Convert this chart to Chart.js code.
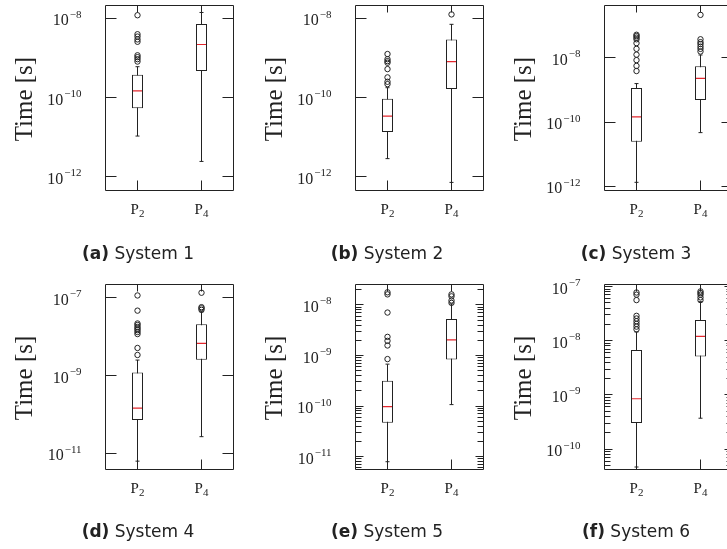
<!DOCTYPE html>
<html>
<head>
<meta charset="utf-8">
<script src="https://cdn.jsdelivr.net/npm/chart.js@4.4.1/dist/chart.umd.min.js"></script>
<style>
  html, body { margin: 0; padding: 0; background: #fff; }
  #fig { position: relative; width: 727px; height: 549px; overflow: hidden; }
  #fig canvas { position: absolute; }
  .cap {
    position: absolute; width: 220px; text-align: center;
    font: 17px "DejaVu Sans", sans-serif; line-height: 20px;
    color: #222; white-space: nowrap;
  }
</style>
</head>
<body>
<div id="fig"></div>
<script>
const categories = ["P₂", "P₄"];

// System 1
const sys1Low = [1.07e-11, 2.45e-12];
const sys1Q1 = [5.37e-11, 4.68e-10];
const sys1Median = [1.48e-10, 2.19e-9];
const sys1Q3 = [3.8e-10, 7.24e-9];
const sys1High = [6.03e-10, 1.41e-8];
const sys1OutliersP2 = [1.2e-8, 3.98e-9, 3.47e-9, 2.95e-9, 2.57e-9, 1.17e-9, 1.05e-9, 9.33e-10, 8.13e-10];
const sys1OutliersP4 = [];
const sys1Range = [4.52e-13, 2.09e-8];
const sys1Ticks = [1e-8, 1e-10, 1e-12];

// System 2
const sys2Low = [2.88e-12, 7.24e-13];
const sys2Q1 = [1.35e-11, 1.66e-10];
const sys2Median = [3.39e-11, 8.13e-10];
const sys2Q3 = [9.33e-11, 2.95e-9];
const sys2High = [1.78e-10, 7.08e-9];
const sys2OutliersP2 = [1.26e-9, 9.33e-10, 8.32e-10, 7.59e-10, 5.25e-10, 3.24e-10, 2.51e-10, 2.19e-10];
const sys2OutliersP4 = [1.26e-8];
const sys2Range = [4.52e-13, 2.09e-8];
const sys2Ticks = [1e-8, 1e-10, 1e-12];

// System 3
const sys3Low = [1.32e-12, 4.68e-11];
const sys3Q1 = [2.45e-11, 4.9e-10];
const sys3Median = [1.45e-10, 2.29e-9];
const sys3Q3 = [1.15e-9, 5.5e-9];
const sys3High = [1.58e-9, 1.23e-8];
const sys3OutliersP2 = [5.25e-8, 4.79e-8, 4.27e-8, 3.8e-8, 2.88e-8, 1.91e-8, 1.26e-8, 8.51e-9, 5.62e-9, 3.89e-9];
const sys3OutliersP4 = [2.19e-7, 3.8e-8, 3.09e-8, 2.69e-8, 2.24e-8, 1.91e-8, 1.58e-8];
const sys3Range = [7.34e-13, 4.23e-7];
const sys3Ticks = [1e-8, 1e-10, 1e-12];

// System 4
const sys4Low = [6.31e-12, 2.69e-11];
const sys4Q1 = [7.24e-11, 2.57e-9];
const sys4Median = [1.45e-10, 6.76e-9];
const sys4Q3 = [1.2e-9, 2.09e-8];
const sys4High = [2.51e-9, 4.37e-8];
const sys4OutliersP2 = [1.15e-7, 4.68e-8, 2.19e-8, 2.0e-8, 1.78e-8, 1.62e-8, 1.48e-8, 1.32e-8, 1.17e-8, 5.13e-9, 3.39e-9];
const sys4OutliersP4 = [1.35e-7, 5.75e-8, 5.37e-8, 4.9e-8];
const sys4Range = [3.85e-12, 2.2e-7];
const sys4Ticks = [1e-7, 1e-9, 1e-11];

// System 5
const sys5Low = [7.94e-12, 1.07e-10];
const sys5Q1 = [4.68e-11, 8.32e-10];
const sys5Median = [9.77e-11, 2.04e-9];
const sys5Q3 = [3.16e-10, 5.25e-9];
const sys5High = [6.76e-10, 1.05e-8];
const sys5OutliersP2 = [1.78e-8, 1.62e-8, 7.08e-9, 2.34e-9, 1.95e-9, 1.58e-9, 8.51e-10];
const sys5OutliersP4 = [1.62e-8, 1.48e-8, 1.23e-8, 1.1e-8];
const sys5Range = [5.57e-12, 2.54e-8];
const sys5Ticks = [1e-8, 1e-9, 1e-10, 1e-11];

// System 6
const sys6Low = [4.68e-11, 3.72e-10];
const sys6Q1 = [3.02e-10, 5.13e-9];
const sys6Median = [8.51e-10, 1.2e-8];
const sys6Q3 = [6.76e-9, 2.4e-8];
const sys6High = [1.45e-8, 5.25e-8];
const sys6OutliersP2 = [7.76e-8, 7.08e-8, 5.62e-8, 2.88e-8, 2.57e-8, 2.29e-8, 2.04e-8, 1.82e-8, 1.62e-8];
const sys6OutliersP4 = [8.13e-8, 7.59e-8, 7.08e-8, 6.31e-8, 5.62e-8];
const sys6Range = [4.21e-11, 1.09e-7];
const sys6Ticks = [1e-7, 1e-8, 1e-9, 1e-10];

const panels = [
  { tag: "(a)", name: "System 1", low: sys1Low, q1: sys1Q1, med: sys1Median, q3: sys1Q3, high: sys1High, out: [sys1OutliersP2, sys1OutliersP4], range: sys1Range, ticks: sys1Ticks, minor: false },
  { tag: "(b)", name: "System 2", low: sys2Low, q1: sys2Q1, med: sys2Median, q3: sys2Q3, high: sys2High, out: [sys2OutliersP2, sys2OutliersP4], range: sys2Range, ticks: sys2Ticks, minor: false },
  { tag: "(c)", name: "System 3", low: sys3Low, q1: sys3Q1, med: sys3Median, q3: sys3Q3, high: sys3High, out: [sys3OutliersP2, sys3OutliersP4], range: sys3Range, ticks: sys3Ticks, minor: false },
  { tag: "(d)", name: "System 4", low: sys4Low, q1: sys4Q1, med: sys4Median, q3: sys4Q3, high: sys4High, out: [sys4OutliersP2, sys4OutliersP4], range: sys4Range, ticks: sys4Ticks, minor: false },
  { tag: "(e)", name: "System 5", low: sys5Low, q1: sys5Q1, med: sys5Median, q3: sys5Q3, high: sys5High, out: [sys5OutliersP2, sys5OutliersP4], range: sys5Range, ticks: sys5Ticks, minor: true },
  { tag: "(f)", name: "System 6", low: sys6Low, q1: sys6Q1, med: sys6Median, q3: sys6Q3, high: sys6High, out: [sys6OutliersP2, sys6OutliersP4], range: sys6Range, ticks: sys6Ticks, minor: true },
];

// layout of the 2x3 grid (pixels)
const colLeft = [0, 249, 498];
const frameLeft = [105.5, 355.5, 604.5];
const frameWidth = 128;
const rowTop = [0, 278];
const rowHeight = [278, 271];
const frameTop = [5.5, 284.5];
const frameBottom = [190.5, 469.5];
const capCenterX = [138, 387, 636];
const capCenterY = [253, 531];

const INK = "#222";
const SERIF = "'Liberation Serif', 'DejaVu Serif', serif";

function makeFrame(p) {
  return {
    id: "frameAxes",
    afterDatasetsDraw(chart) {
      const { ctx, chartArea: a, scales } = chart;
      const x = scales.x;
      const y = scales.y;
      const L = Math.floor(a.left) + 0.5;
      const R = Math.floor(a.right) + 0.5;
      const T = Math.floor(a.top) + 0.5;
      const B = Math.floor(a.bottom) + 0.5;
      const majorLen = p.minor ? 8 : 11;

      ctx.save();
      ctx.strokeStyle = INK;
      ctx.lineWidth = 1;
      ctx.beginPath();
      ctx.rect(L, T, R - L, B - T);

      p.ticks.forEach(function (v) {
        const py = Math.floor(y.getPixelForValue(v)) + 0.5;
        ctx.moveTo(L, py); ctx.lineTo(L + majorLen, py);
        ctx.moveTo(R, py); ctx.lineTo(R - majorLen, py);
      });

      if (p.minor) {
        const lo = Math.floor(Math.log10(p.range[0]));
        const hi = Math.ceil(Math.log10(p.range[1]));
        for (let n = lo; n <= hi; n++) {
          for (let k = 2; k <= 9; k++) {
            const v = k * Math.pow(10, n);
            if (v <= p.range[0] || v >= p.range[1]) continue;
            const py = Math.floor(y.getPixelForValue(v)) + 0.5;
            ctx.moveTo(L, py); ctx.lineTo(L + 6, py);
            ctx.moveTo(R, py); ctx.lineTo(R - 6, py);
          }
        }
      }

      categories.forEach(function (c, i) {
        const px = Math.floor(x.getPixelForValue(i)) + 0.5;
        ctx.moveTo(px, T); ctx.lineTo(px, T + 7);
        ctx.moveTo(px, B); ctx.lineTo(px, B - 10);
      });
      ctx.stroke();

      // y tick labels: 10 with a raised exponent
      ctx.fillStyle = INK;
      ctx.textAlign = "left";
      ctx.textBaseline = "alphabetic";
      const bigFont = "16px " + SERIF;
      const smallFont = "11px " + SERIF;
      p.ticks.forEach(function (v) {
        const py = y.getPixelForValue(v);
        const exp = "\u2212" + String(-Math.round(Math.log10(v)));
        ctx.font = smallFont;
        const we = ctx.measureText(exp).width;
        ctx.font = bigFont;
        const wb = ctx.measureText("10").width;
        const xr = a.left - 24;
        ctx.fillText("10", xr - we - wb - 1, py + 7);
        ctx.font = smallFont;
        ctx.fillText(exp, xr - we, py - 0.5);
      });

      // x tick labels: P with subscript
      categories.forEach(function (c, i) {
        const px = x.getPixelForValue(i);
        const main = c.charAt(0);
        const sub = String.fromCharCode(c.charCodeAt(1) - 0x2080 + 48);
        ctx.font = "15px " + SERIF;
        const wm = ctx.measureText(main).width;
        ctx.font = smallFont;
        const ws = ctx.measureText(sub).width;
        const x0 = px - (wm + ws) / 2;
        ctx.font = "15px " + SERIF;
        ctx.fillText(main, x0, a.bottom + 23);
        ctx.font = smallFont;
        ctx.fillText(sub, x0 + wm, a.bottom + 26);
      });

      // y axis title
      ctx.translate(a.left - 80, (a.top + a.bottom) / 2 + 1);
      ctx.rotate(-Math.PI / 2);
      ctx.font = "25px " + SERIF;
      ctx.textAlign = "center";
      ctx.textBaseline = "middle";
      ctx.fillText("Time [s]", 0, 0);
      ctx.restore();
    },
  };
}

function makeBoxChart(canvas, p, pad) {
  const boxes = categories.map(function (c, i) { return [p.q1[i], p.q3[i]]; });
  const whiskers = categories.map(function (c, i) { return [p.low[i], p.high[i]]; });
  const caps = [];
  const outliers = [];
  categories.forEach(function (c, i) {
    caps.push({ x: c, y: p.low[i] }, { x: c, y: p.high[i] });
    p.out[i].forEach(function (v) { outliers.push({ x: c, y: v }); });
  });

  new Chart(canvas.getContext("2d"), {
    type: "bar",
    data: {
      labels: categories,
      datasets: [
        {
          type: "line",
          data: p.med,
          showLine: false,
          pointStyle: "line",
          pointRadius: 4.5,
          borderColor: "#e3262d",
          borderWidth: 1.2,
          order: 0,
        },
        {
          type: "line",
          data: caps,
          showLine: false,
          pointStyle: "line",
          pointRadius: 2,
          borderColor: INK,
          borderWidth: 1,
          order: 1,
        },
        {
          type: "line",
          data: outliers,
          showLine: false,
          pointStyle: "circle",
          pointRadius: 2.7,
          borderColor: INK,
          backgroundColor: "rgba(255,255,255,0)",
          borderWidth: 1,
          order: 1,
        },
        {
          type: "bar",
          data: boxes,
          backgroundColor: "#fff",
          borderColor: INK,
          borderWidth: 1,
          borderSkipped: false,
          inflateAmount: 0,
          barThickness: 11,
          grouped: false,
          order: 2,
        },
        {
          type: "bar",
          data: whiskers,
          backgroundColor: INK,
          borderWidth: 0,
          inflateAmount: 0,
          barThickness: 1,
          grouped: false,
          order: 3,
        },
      ],
    },
    options: {
      responsive: false,
      animation: false,
      events: [],
      layout: { padding: pad },
      plugins: {
        legend: { display: false },
        tooltip: { enabled: false },
      },
      scales: {
        x: { display: false, offset: true },
        y: {
          type: "logarithmic",
          display: false,
          min: p.range[0],
          max: p.range[1],
        },
      },
    },
    plugins: [makeFrame(p)],
  });
}

const fig = document.getElementById("fig");
panels.forEach(function (p, idx) {
  const col = idx % 3;
  const row = Math.floor(idx / 3);
  const canvas = document.createElement("canvas");
  canvas.width = 249;
  canvas.height = rowHeight[row];
  canvas.style.left = colLeft[col] + "px";
  canvas.style.top = rowTop[row] + "px";
  canvas.style.width = "249px";
  canvas.style.height = rowHeight[row] + "px";
  fig.appendChild(canvas);

  const left = frameLeft[col] - colLeft[col];
  const pad = {
    left: left,
    right: 249 - left - frameWidth,
    top: frameTop[row] - rowTop[row],
    bottom: rowTop[row] + rowHeight[row] - frameBottom[row],
  };
  makeBoxChart(canvas, p, pad);

  const cap = document.createElement("div");
  cap.className = "cap";
  cap.style.left = capCenterX[col] - 110 + "px";
  cap.style.top = capCenterY[row] - 10 + "px";
  const b = document.createElement("b");
  b.textContent = p.tag;
  cap.appendChild(b);
  cap.appendChild(document.createTextNode(" " + p.name));
  fig.appendChild(cap);
});
</script>
</body>
</html>
